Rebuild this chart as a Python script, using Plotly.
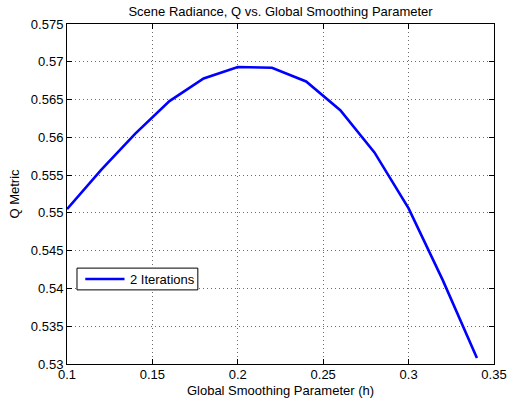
import plotly.graph_objects as go

# Global smoothing parameter h and the resulting Q metric (2 iterations)
h_values = [0.10, 0.12, 0.14, 0.16, 0.18, 0.20, 0.22, 0.24, 0.26, 0.28, 0.30, 0.32, 0.34]
q_metric = [0.5505, 0.5557, 0.5605, 0.5648, 0.5678, 0.5693, 0.5692, 0.5674, 0.5636, 0.5580, 0.5506, 0.5411, 0.5308]
series_name = "2 Iterations"

x_ticks = [0.1, 0.15, 0.2, 0.25, 0.3, 0.35]
x_tick_text = ["0.1", "0.15", "0.2", "0.25", "0.3", "0.35"]
y_ticks = [0.53, 0.535, 0.54, 0.545, 0.55, 0.555, 0.56, 0.565, 0.57, 0.575]
y_tick_text = ["0.53", "0.535", "0.54", "0.545", "0.55", "0.555", "0.56", "0.565", "0.57", "0.575"]

font_family = "Liberation Sans, Arial, Helvetica, sans-serif"
fs = 13
line_color = "#0000ff"

fig = go.Figure()
fig.add_trace(go.Scatter(
    x=h_values, y=q_metric, mode="lines", name=series_name,
    line=dict(color=line_color, width=2.6), showlegend=False,
))

axis_common = dict(
    showline=True, linecolor="black", linewidth=1, mirror="ticks",
    ticks="inside", ticklen=5, tickwidth=1, tickcolor="black",
    showgrid=True, gridcolor="#6a6a6a", gridwidth=1, griddash="1px,3px",
    zeroline=False, automargin=False,
    tickfont=dict(family=font_family, size=fs, color="black"),
)

# Boxed legend in the lower-left corner of the axes (paper coordinates)
legend_box = dict(x0=0.0234, x1=0.3064, y0=0.218, y1=0.282)
legend_line_y = (legend_box["y0"] + legend_box["y1"]) / 2
shapes = [
    dict(type="rect", xref="paper", yref="paper", **legend_box,
         line=dict(color="black", width=1), fillcolor="white", layer="above"),
    dict(type="line", xref="paper", yref="paper",
         x0=0.0428, x1=0.1347, y0=legend_line_y, y1=legend_line_y,
         line=dict(color=line_color, width=2.6), layer="above"),
]
annotations = [
    dict(text=series_name, xref="paper", yref="paper", x=0.1434, y=legend_line_y,
         xanchor="left", yanchor="middle", showarrow=False,
         font=dict(family=font_family, size=fs, color="black")),
]

fig.update_layout(
    width=511, height=402,
    margin=dict(l=67, r=17, t=24, b=38),
    paper_bgcolor="white", plot_bgcolor="white",
    font=dict(family=font_family, size=fs, color="black"),
    title=dict(text="Scene Radiance, Q vs. Global Smoothing Parameter",
               x=0.549, xanchor="center", y=0.971, yanchor="middle",
               font=dict(family=font_family, size=fs, color="black")),
    xaxis=dict(range=[0.1, 0.35], tickvals=x_ticks, ticktext=x_tick_text,
               ticklabelstandoff=-2,
               title=dict(text="Global Smoothing Parameter (h)", standoff=5,
                          font=dict(family=font_family, size=fs, color="black")),
               **axis_common),
    yaxis=dict(range=[0.53, 0.575], tickvals=y_ticks, ticktext=y_tick_text,
               title=dict(text="Q Metric", standoff=8,
                          font=dict(family=font_family, size=fs, color="black")),
               **axis_common),
    shapes=shapes,
    annotations=annotations,
    showlegend=False,
)

fig.write_html("out.html")
